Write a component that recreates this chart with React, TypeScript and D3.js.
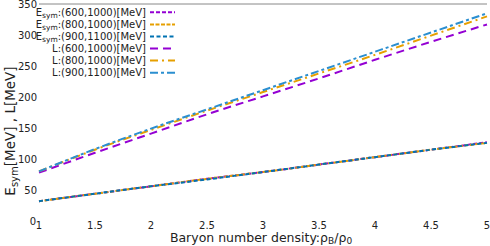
import { useEffect, useRef } from 'react';
import * as d3 from 'd3';

const density = [1, 1.5, 2, 2.5, 3, 3.5, 4, 4.5, 5];

const esym600 = [32, 44, 56, 68, 79, 91, 103, 115, 127];
const esym800 = [32, 44, 56, 68, 79, 91, 103, 115, 126];
const esym900 = [32, 44, 56, 67, 79, 91, 103, 115, 126];

const l600 = [78, 110, 141, 172, 201, 230, 260, 289, 317];
const l800 = [80, 115, 147, 178, 208, 238, 268, 299, 330];
const l900 = [80, 116, 149, 180, 211, 242, 273, 304, 335];

const xTicks = [1, 1.5, 2, 2.5, 3, 3.5, 4, 4.5, 5];
const yTicks = [0, 50, 100, 150, 200, 250, 300, 350];

type Series = {
  kind: 'E' | 'L';
  label: string;
  values: number[];
  color: string;
  dash: string;
};

const series: Series[] = [
  { kind: 'E', label: ':(600,1000)[MeV]', values: esym600, color: '#9400d3', dash: '4,2' },
  { kind: 'E', label: ':(800,1000)[MeV]', values: esym800, color: '#e69f00', dash: '4,1.5' },
  { kind: 'E', label: ':(900,1100)[MeV]', values: esym900, color: '#0072b2', dash: '4,2.5' },
  { kind: 'L', label: 'L:(600,1000)[MeV]', values: l600, color: '#9400d3', dash: '8,5' },
  { kind: 'L', label: 'L:(800,1000)[MeV]', values: l800, color: '#e69f00', dash: '8,4,2,4' },
  { kind: 'L', label: 'L:(900,1100)[MeV]', values: l900, color: '#2b8fd0', dash: '8,3,3,3' },
];

export default function App() {
  const ref = useRef<SVGSVGElement | null>(null);
  const width = 490;
  const height = 246;

  useEffect(() => {
    if (!ref.current) return;
    const svg = d3.select(ref.current);
    svg.selectAll('*').remove();

    const font = "'DejaVu Sans', Verdana, sans-serif";
    const x = d3.scaleLinear().domain([1, 5]).range([39, 487]);
    const y = d3.scaleLinear().domain([0, 350]).range([221, 4]);

    svg
      .append('line')
      .attr('x1', x(1))
      .attr('x2', x(5))
      .attr('y1', y(350))
      .attr('y2', y(350))
      .attr('stroke', '#888')
      .attr('stroke-width', 1);

    const line = d3
      .line<number>()
      .x((_, i) => x(density[i]))
      .y(d => y(d))
      .curve(d3.curveMonotoneX);

    series.forEach(s => {
      svg
        .append('path')
        .datum(s.values)
        .attr('fill', 'none')
        .attr('stroke', s.color)
        .attr('stroke-width', 2)
        .attr('stroke-dasharray', s.dash)
        .attr('d', line);
    });

    // y tick labels
    svg
      .append('g')
      .selectAll('text')
      .data(yTicks)
      .join('text')
      .attr('x', d => (d === 0 ? 36 : 37))
      .attr('y', d => y(d) + 4)
      .attr('text-anchor', 'end')
      .attr('font-family', font)
      .attr('font-size', 10)
      .attr('fill', '#222')
      .text(d => d);

    // x tick labels
    svg
      .append('g')
      .selectAll('text')
      .data(xTicks)
      .join('text')
      .attr('x', d => x(d))
      .attr('y', 228.5)
      .attr('text-anchor', 'middle')
      .attr('font-family', font)
      .attr('font-size', 10)
      .attr('fill', '#222')
      .text(d => d);

    // x title
    const xt = svg
      .append('text')
      .attr('x', 261)
      .attr('y', 241.5)
      .attr('text-anchor', 'middle')
      .attr('font-family', font)
      .attr('font-size', 12.5)
      .attr('fill', '#222');
    xt.append('tspan').text('Baryon number density:ρ');
    xt.append('tspan').attr('font-size', 9).attr('dy', 2.5).text('B');
    xt.append('tspan').attr('dy', -2.5).text('/ρ');
    xt.append('tspan').attr('font-size', 9).attr('dy', 2.5).text('0');

    // y title
    const yt = svg
      .append('text')
      .attr('transform', 'translate(15,131) rotate(-90)')
      .attr('text-anchor', 'middle')
      .attr('font-family', font)
      .attr('font-size', 13.5)
      .attr('fill', '#222');
    yt.append('tspan').text('E');
    yt.append('tspan').attr('font-size', 10).attr('dy', 3).text('sym');
    yt.append('tspan').attr('dy', -3).text('[MeV] , L[MeV]');

    // legend
    const rowY = d3.scaleLinear().domain([0, 5]).range([12.3, 72.7]);
    series.forEach((s, i) => {
      const t = svg
        .append('text')
        .attr('x', 146)
        .attr('y', rowY(i) + 3.5)
        .attr('text-anchor', 'end')
        .attr('font-family', font)
        .attr('font-size', 10)
        .attr('fill', '#222');
      if (s.kind === 'E') {
        t.append('tspan').text('E');
        t.append('tspan').attr('font-size', 7.5).attr('dy', 2.5).text('sym');
        t.append('tspan').attr('dy', -2.5).text(s.label);
      } else {
        t.text(s.label);
      }
      svg
        .append('line')
        .attr('x1', 150)
        .attr('x2', 175)
        .attr('y1', rowY(i))
        .attr('y2', rowY(i))
        .attr('stroke', s.color)
        .attr('stroke-width', 2)
        .attr('stroke-dasharray', s.dash);
    });
  }, []);

  return (
    <svg
      ref={ref}
      width={width}
      height={height}
      style={{ position: 'absolute', left: 0, top: 0, background: '#fff' }}
    />
  );
}
